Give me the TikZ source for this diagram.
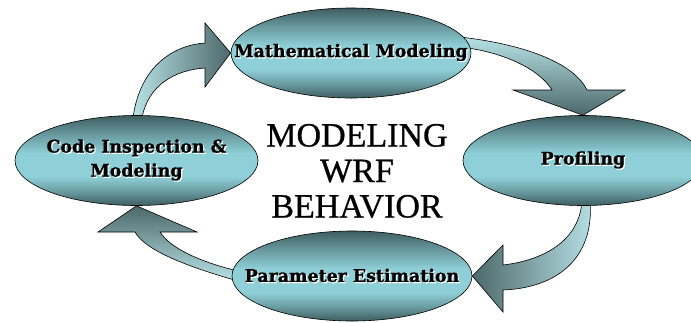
\documentclass[tikz,border=0pt]{standalone}
\usepackage{fontspec}
\newfontfamily\stagefont{DejaVu Serif}[FakeBold=1.2]
\newfontfamily\titlefont{Liberation Serif}[FakeBold=0.8]
\usetikzlibrary{shapes.geometric}
\definecolor{elldark}{RGB}{62,94,97}
\definecolor{elllight}{RGB}{143,207,215}
\definecolor{arrlight}{RGB}{184,226,230}
\definecolor{arrdark}{RGB}{76,104,106}
\pgfdeclareverticalshading{ellshade}{100bp}{color(0bp)=(elldark); color(25bp)=(elldark); color(33bp)=(elllight!55!elldark); color(41bp)=(elllight); color(54bp)=(elllight); color(64bp)=(elllight!55!elldark); color(75bp)=(elldark); color(100bp)=(elldark)}
\pgfdeclarelayer{bg}
\pgfsetlayers{bg,main}
\newcommand{\embossed}[1]{\makebox[0pt][l]{\hspace{1.2pt}\raisebox{-1.2pt}{\color{white}#1}}#1}

\begin{document}
\begin{tikzpicture}[x=1pt, y=-1pt, stage/.style={ellipse, draw=black, line width=0.6pt, shade, shading=ellshade, minimum width=240pt, minimum height=90pt, inner sep=0pt}, stagetext/.style={align=center, inner sep=0pt, font=\stagefont\bfseries\fontsize{17.4}{24}\selectfont}, blockarr/.style={draw=black, line width=0.6pt}]
\useasboundingbox (0,0) rectangle (691,322);
\node[stage, label={[stagetext, name=mathtext]center:\embossed{Mathematical Modeling}}] (math) at (351,53) {};
\node[stage, minimum width=243pt, label={[stagetext, name=codetext]center:{\embossed{Code Inspection \&}\\\embossed{Modeling}}}] (code) at (136.5,160.5) {};
\node[stage, label={[stagetext, name=proftext]center:\embossed{Profiling}}] (prof) at (583,160.5) {};
\node[stage, label={[stagetext, name=paramtext]center:\embossed{Parameter Estimation}}] (param) at (352,276) {};
\node[font=\titlefont\fontsize{34}{35.5}\selectfont, align=center] (title) at (357,171) {MODELING\\WRF\\BEHAVIOR};
% block arrows behind the ellipses
\begin{pgfonlayer}{bg}
\path[blockarr, left color=arrlight, right color=arrdark] (133,118) .. controls (140,65) and (175,45) .. (205,43) -- (205,23) -- (math.west) -- (205,87) -- (205,68) .. controls (175,70) and (148,85) .. (142,118) -- cycle;
\path[blockarr, top color=arrlight, bottom color=arrdark] (460,37) .. controls (530,45) and (575,65) .. (587,90) -- (625,90) -- (prof.north) -- (513,90) -- (552,90) .. controls (540,70) and (505,52) .. (460,47) -- cycle;
\path[blockarr, left color=arrdark, right color=arrlight] (590,200) .. controls (595,260) and (555,288) .. (503,290) -- (503,312) -- (param.east) -- (503,245) -- (503,265) .. controls (545,260) and (580,240) .. (582,200) -- cycle;
\path[blockarr, top color=arrdark, bottom color=arrlight] (238,281) .. controls (185,266) and (145,250) .. (135,232) -- (98,232) -- (code.south) -- (197,232) -- (160,232) .. controls (170,248) and (200,262) .. (238,271) -- cycle;
\end{pgfonlayer}
\end{tikzpicture}
\end{document}
